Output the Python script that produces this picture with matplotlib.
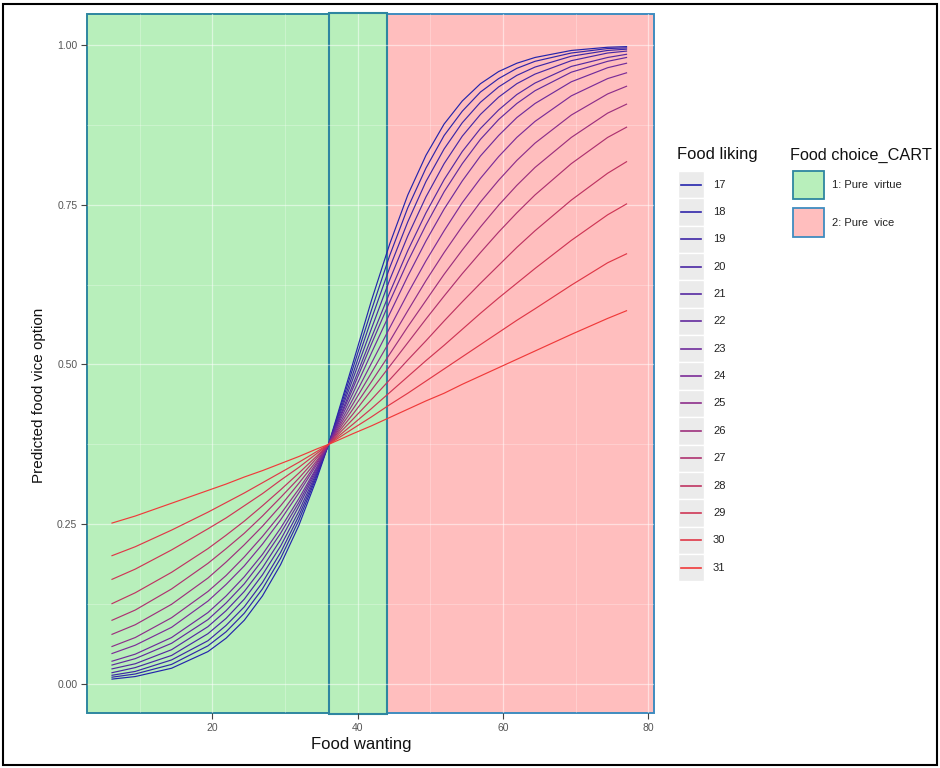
import numpy as np
import matplotlib
matplotlib.use("Agg")
import matplotlib.pyplot as plt
from matplotlib.colors import LinearSegmentedColormap
from matplotlib.patches import Rectangle
from matplotlib.lines import Line2D

plt.rcParams['font.family'] = ['Liberation Sans', 'DejaVu Sans']

wanting = [6.2, 9.4, 14.4, 19.4, 21.9, 24.4, 26.9, 29.4, 31.9, 34.4, 36.0, 39.4, 41.9,
           44.4, 46.9, 49.4, 51.9, 54.4, 56.9, 59.4, 61.9, 64.4, 69.4, 74.4, 77.0]

# Food liking levels (legend)
liking = [17, 18, 19, 20, 21, 22, 23, 24, 25, 26, 27, 28, 29, 30, 31]

# predicted probability of the vice option, one list per liking level
p17 = [0.008, 0.012, 0.025, 0.051, 0.072, 0.100, 0.138, 0.187, 0.248, 0.322, 0.375, 0.504, 0.600,
       0.688, 0.765, 0.827, 0.876, 0.912, 0.939, 0.958, 0.971, 0.980, 0.991, 0.996, 0.997]
p18 = [0.011, 0.016, 0.031, 0.060, 0.082, 0.111, 0.149, 0.197, 0.256, 0.326, 0.375, 0.496, 0.585,
       0.670, 0.745, 0.807, 0.858, 0.896, 0.926, 0.947, 0.963, 0.974, 0.987, 0.994, 0.995]
p19 = [0.014, 0.020, 0.038, 0.068, 0.092, 0.121, 0.159, 0.206, 0.263, 0.329, 0.375, 0.487, 0.571,
       0.651, 0.723, 0.786, 0.837, 0.878, 0.910, 0.934, 0.952, 0.965, 0.982, 0.991, 0.993]
p20 = [0.018, 0.026, 0.045, 0.079, 0.103, 0.133, 0.171, 0.216, 0.270, 0.332, 0.375, 0.479, 0.556,
       0.632, 0.701, 0.762, 0.814, 0.857, 0.891, 0.918, 0.939, 0.954, 0.975, 0.987, 0.990]
p21 = [0.024, 0.032, 0.054, 0.090, 0.115, 0.145, 0.182, 0.226, 0.278, 0.335, 0.375, 0.470, 0.542,
       0.612, 0.678, 0.737, 0.789, 0.833, 0.869, 0.898, 0.922, 0.940, 0.966, 0.980, 0.985]
p22 = [0.030, 0.040, 0.064, 0.101, 0.127, 0.157, 0.194, 0.236, 0.284, 0.338, 0.375, 0.464, 0.532,
       0.598, 0.661, 0.718, 0.770, 0.814, 0.852, 0.883, 0.908, 0.928, 0.957, 0.974, 0.980]
p23 = [0.036, 0.047, 0.073, 0.112, 0.138, 0.168, 0.203, 0.244, 0.290, 0.340, 0.375, 0.456, 0.518,
       0.579, 0.638, 0.693, 0.743, 0.787, 0.826, 0.858, 0.886, 0.908, 0.942, 0.964, 0.971]
p24 = [0.048, 0.061, 0.089, 0.130, 0.156, 0.185, 0.219, 0.257, 0.299, 0.344, 0.375, 0.447, 0.502,
       0.557, 0.611, 0.662, 0.709, 0.753, 0.791, 0.825, 0.855, 0.880, 0.920, 0.947, 0.956]
p25 = [0.059, 0.073, 0.104, 0.145, 0.170, 0.199, 0.231, 0.266, 0.305, 0.347, 0.375, 0.439, 0.487,
       0.536, 0.584, 0.631, 0.675, 0.716, 0.754, 0.788, 0.819, 0.846, 0.890, 0.923, 0.935]
p26 = [0.078, 0.093, 0.125, 0.166, 0.191, 0.218, 0.247, 0.279, 0.314, 0.350, 0.375, 0.431, 0.473,
       0.516, 0.559, 0.600, 0.641, 0.679, 0.715, 0.749, 0.780, 0.808, 0.855, 0.893, 0.907]
p27 = [0.100, 0.116, 0.149, 0.189, 0.212, 0.236, 0.263, 0.292, 0.322, 0.354, 0.375, 0.423, 0.460,
       0.497, 0.534, 0.571, 0.607, 0.642, 0.675, 0.707, 0.737, 0.765, 0.814, 0.855, 0.871]
p28 = [0.126, 0.143, 0.175, 0.212, 0.233, 0.255, 0.279, 0.304, 0.330, 0.357, 0.375, 0.415, 0.445,
       0.476, 0.507, 0.537, 0.568, 0.598, 0.627, 0.655, 0.683, 0.709, 0.757, 0.799, 0.817]
p29 = [0.164, 0.180, 0.210, 0.243, 0.260, 0.279, 0.298, 0.319, 0.339, 0.361, 0.375, 0.407, 0.431,
       0.456, 0.481, 0.506, 0.530, 0.555, 0.580, 0.604, 0.627, 0.650, 0.694, 0.734, 0.751]
p30 = [0.201, 0.215, 0.241, 0.269, 0.284, 0.299, 0.315, 0.331, 0.347, 0.364, 0.375, 0.400, 0.418,
       0.437, 0.455, 0.474, 0.493, 0.512, 0.531, 0.550, 0.569, 0.587, 0.624, 0.659, 0.673]
p31 = [0.252, 0.263, 0.283, 0.303, 0.313, 0.324, 0.334, 0.345, 0.356, 0.368, 0.375, 0.392, 0.404,
       0.417, 0.430, 0.443, 0.455, 0.469, 0.482, 0.495, 0.508, 0.521, 0.547, 0.572, 0.584]
curves = [p17, p18, p19, p20, p21, p22, p23, p24, p25, p26, p27, p28, p29, p30, p31]

# CART regions on food wanting
cart_splits = [36, 44]
cart_labels = ["1: Pure  virtue", "2: Pure  vice"]

W, H = 940, 768
GREEN = '#b8efbb'
PINK = '#ffbebe'
EDGE = '#2e86a0'
EDGE2 = '#3f8cc0'

fig = plt.figure(figsize=(W / 100, H / 100), dpi=100)

def fx(px):
    return px / W

def fy(py):
    return 1 - py / H

ax = fig.add_axes([fx(87), fy(713), (654 - 87) / W, (713 - 14) / H])
ax.set_xlim(2.76, 80.78)
ax.set_ylim(-0.045, 1.048)
x0, x1 = ax.get_xlim()

# background regions
ax.axvspan(x0, cart_splits[0], facecolor=GREEN, edgecolor=EDGE, lw=1.4, zorder=0.5, clip_on=False)
ax.axvspan(cart_splits[1], x1, facecolor=PINK, edgecolor=EDGE2, lw=1.4, zorder=0.5, clip_on=False)
ax.axvspan(cart_splits[0], cart_splits[1], ymin=-0.002, ymax=1.0015, facecolor=GREEN,
           edgecolor=EDGE, lw=1.5, zorder=0.6, clip_on=False)

# colour gradient for liking (blue -> purple -> red)
cmap = LinearSegmentedColormap.from_list('liking', ['#2424ac', '#7c2c98', '#f03a3a'])
colors = [cmap((v - liking[0]) / (liking[-1] - liking[0])) for v in liking]

for vals, col in zip(curves, colors):
    ax.plot(wanting, vals, color=col, lw=0.85, zorder=2)

# axes styling (ggplot-like)
ax.set_xticks([20, 40, 60, 80])
ax.set_xticks([10, 30, 50, 70], minor=True)
ax.set_yticks([0, 0.25, 0.5, 0.75, 1.0])
ax.set_yticklabels(['0.00', '0.25', '0.50', '0.75', '1.00'])
ax.set_yticks([0.125, 0.375, 0.625, 0.875], minor=True)
ax.grid(True, which='major', color='white', alpha=0.5, lw=0.9)
ax.grid(True, which='minor', color='white', alpha=0.3, lw=0.6)
for s in ax.spines.values():
    s.set_visible(False)
ax.tick_params(which='major', length=4, width=0.8, color='#444444',
               labelcolor='#555555', labelsize=7.5, pad=3)
ax.tick_params(which='minor', length=0)

ax.set_xlabel('Food wanting', fontsize=12, color='#111111')
ax.set_ylabel('Predicted food vice option', fontsize=11, color='#111111')
ax.xaxis.set_label_coords(0.483, -0.034)
ax.yaxis.set_label_coords(-0.072, 0.455)

# legend: Food liking
fig.text(fx(677), fy(155), 'Food liking', fontsize=11.9, ha='left', va='center', color='#111111')
row_h = 27.35
for i, (v, col) in enumerate(zip(liking, colors)):
    top = 171 + i * row_h
    fig.add_artist(Rectangle((fx(678), fy(top + row_h)), 26 / W, row_h / H,
                             transform=fig.transFigure, facecolor='#ebebeb',
                             edgecolor='white', lw=1.0))
    yc = fy(top + row_h / 2)
    fig.add_artist(Line2D([fx(681), fx(701)], [yc, yc], transform=fig.transFigure,
                          color=col, lw=1.2))
    fig.text(fx(713), yc, str(v), fontsize=8, ha='left', va='center', color='#222222')

# legend: Food choice_CART
fig.text(fx(790), fy(155), 'Food choice_CART', fontsize=11.7, ha='left', va='center', color='#111111')
boxes = [(171, 199, GREEN, EDGE), (208, 237, PINK, EDGE2)]
for (top, bot, fc, ec), lab in zip(boxes, cart_labels):
    fig.add_artist(Rectangle((fx(793), fy(bot)), 31 / W, (bot - top) / H,
                             transform=fig.transFigure, facecolor=fc, edgecolor=ec, lw=1.3))
    fig.text(fx(832), fy((top + bot) / 2), lab, fontsize=8, ha='left', va='center', color='#222222')

# outer frame
fig.add_artist(Rectangle((fx(3), fy(765)), (937 - 3) / W, (765 - 4) / H,
                         transform=fig.transFigure, fill=False, edgecolor='black', lw=1.5))

fig.savefig('out.png', dpi=100, facecolor='white')
